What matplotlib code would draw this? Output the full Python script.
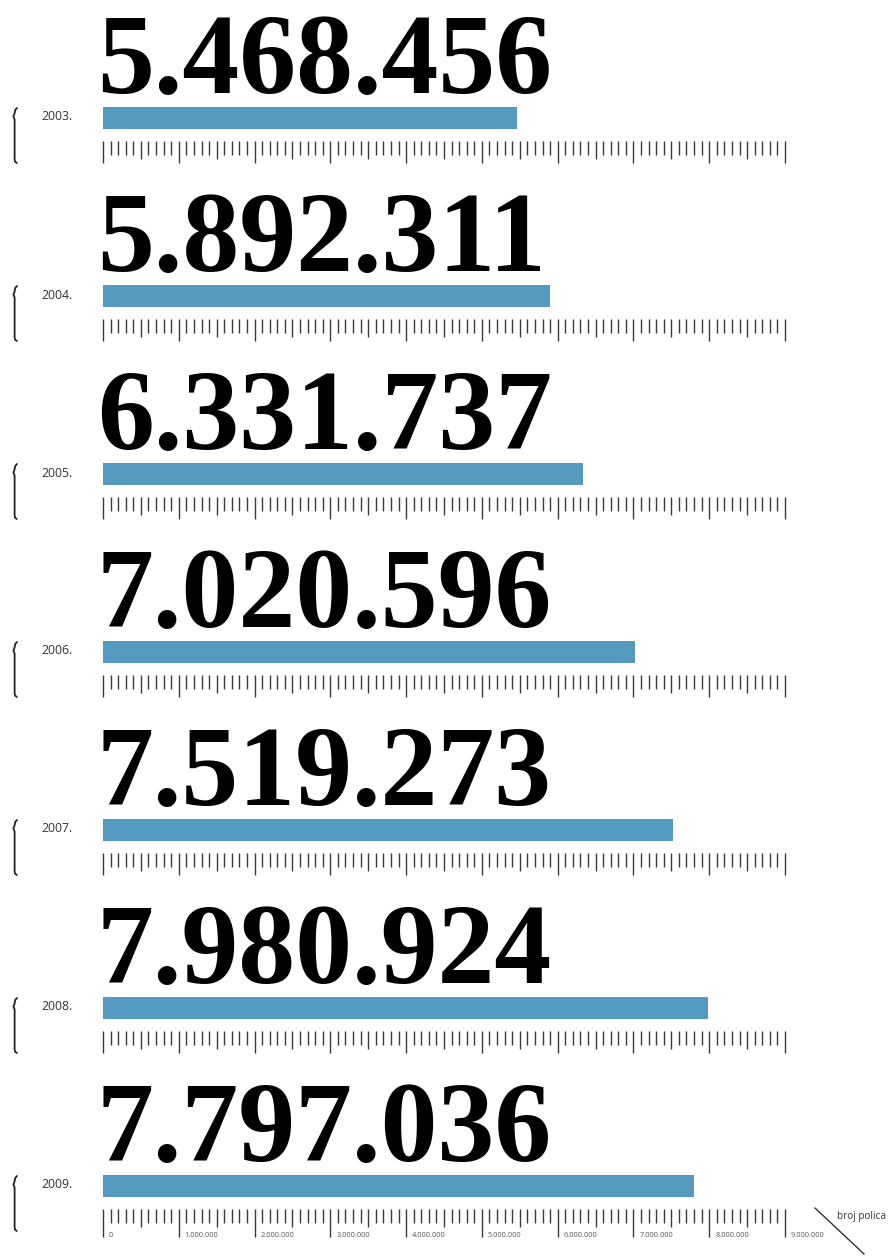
import numpy as np
import matplotlib
matplotlib.use("Agg")
import matplotlib.pyplot as plt
from matplotlib.transforms import blended_transform_factory

# ---- data ----
years = ["2003.", "2004.", "2005.", "2006.", "2007.", "2008.", "2009."]
values = [5468456, 5892311, 6331737, 7020596, 7519273, 7980924, 7797036]
value_labels = ["5.468.456", "5.892.311", "6.331.737", "7.020.596",
                "7.519.273", "7.980.924", "7.797.036"]
tick_labels = ["0", "1.000.000", "2.000.000", "3.000.000", "4.000.000",
               "5.000.000", "6.000.000", "7.000.000", "8.000.000", "9.000.000"]
axis_title = "broj polica"

XMAX = 9_000_000
W, H = 890, 1256
fig = plt.figure(figsize=(W / 100, H / 100), dpi=100)

BAR_COLOR = "#5499be"
TICK_COLOR = "#3a3a3a"
PANEL_H = 178

minor = np.arange(0, XMAX + 1, 100_000)

for i, (yr, val, lab) in enumerate(zip(years, values, value_labels)):
    off = i * PANEL_H
    ax = fig.add_axes([103 / W, 1 - (off + PANEL_H) / H, 682 / W, PANEL_H / H])
    ax.set_xlim(0, XMAX)
    ax.set_ylim(PANEL_H, 0)
    ax.axis("off")
    last = i == len(years) - 1

    # bar
    ax.barh(118, val, height=22, left=0, color=BAR_COLOR, edgecolor="none")

    # big value
    ax.text(-0.009, 93, lab, transform=blended_transform_factory(ax.transAxes, ax.transData),
            fontsize=82, fontweight="bold", family="Liberation Serif",
            color="black", va="baseline", ha="left", clip_on=False)

    # ruler ticks
    for t in minor:
        k = int(round(t / 100_000))
        if k % 10 == 0:
            bottom = 169 if last else 163
        elif k % 5 == 0:
            bottom = 159
        else:
            bottom = 155
        ax.vlines(t, 141, bottom, color=TICK_COLOR, lw=1.0, clip_on=False)

    # year label and brace
    tr = blended_transform_factory(fig.transFigure, ax.transData)
    ax.text(41 / W, 117, yr, transform=tr, fontsize=8.8, family="Open Sans",
            color="#333333", va="center", ha="left")
    bx = np.array([17.0, 15.2, 14.6, 13.4, 14.6, 14.6, 15.0, 16.8]) / W
    by = np.array([108, 110, 113.5, 116.5, 119.5, 159, 161.5, 163])
    ax.plot(bx, by, transform=tr, color="#222222", lw=1.3, clip_on=False,
            solid_capstyle="round", solid_joinstyle="round")

    if last:
        for j, tl in enumerate(tick_labels):
            ax.annotate(tl, xy=(j * 1_000_000, 167.5), xytext=(4.3, 0),
                        textcoords="offset points", fontsize=5.3,
                        family="Open Sans", color="#555555",
                        va="center", ha="left", annotation_clip=False)

# axis title + diagonal
fig.text(837 / W, 1 - 1216 / H, axis_title, fontsize=7.2, family="Open Sans",
         color="#333333", va="center", ha="left")
fig.add_artist(plt.Line2D([815 / W, 864 / W], [1 - 1208 / H, 1 - 1254 / H],
                          transform=fig.transFigure, color="#222222", lw=0.9))

fig.savefig("out.png", dpi=100)
